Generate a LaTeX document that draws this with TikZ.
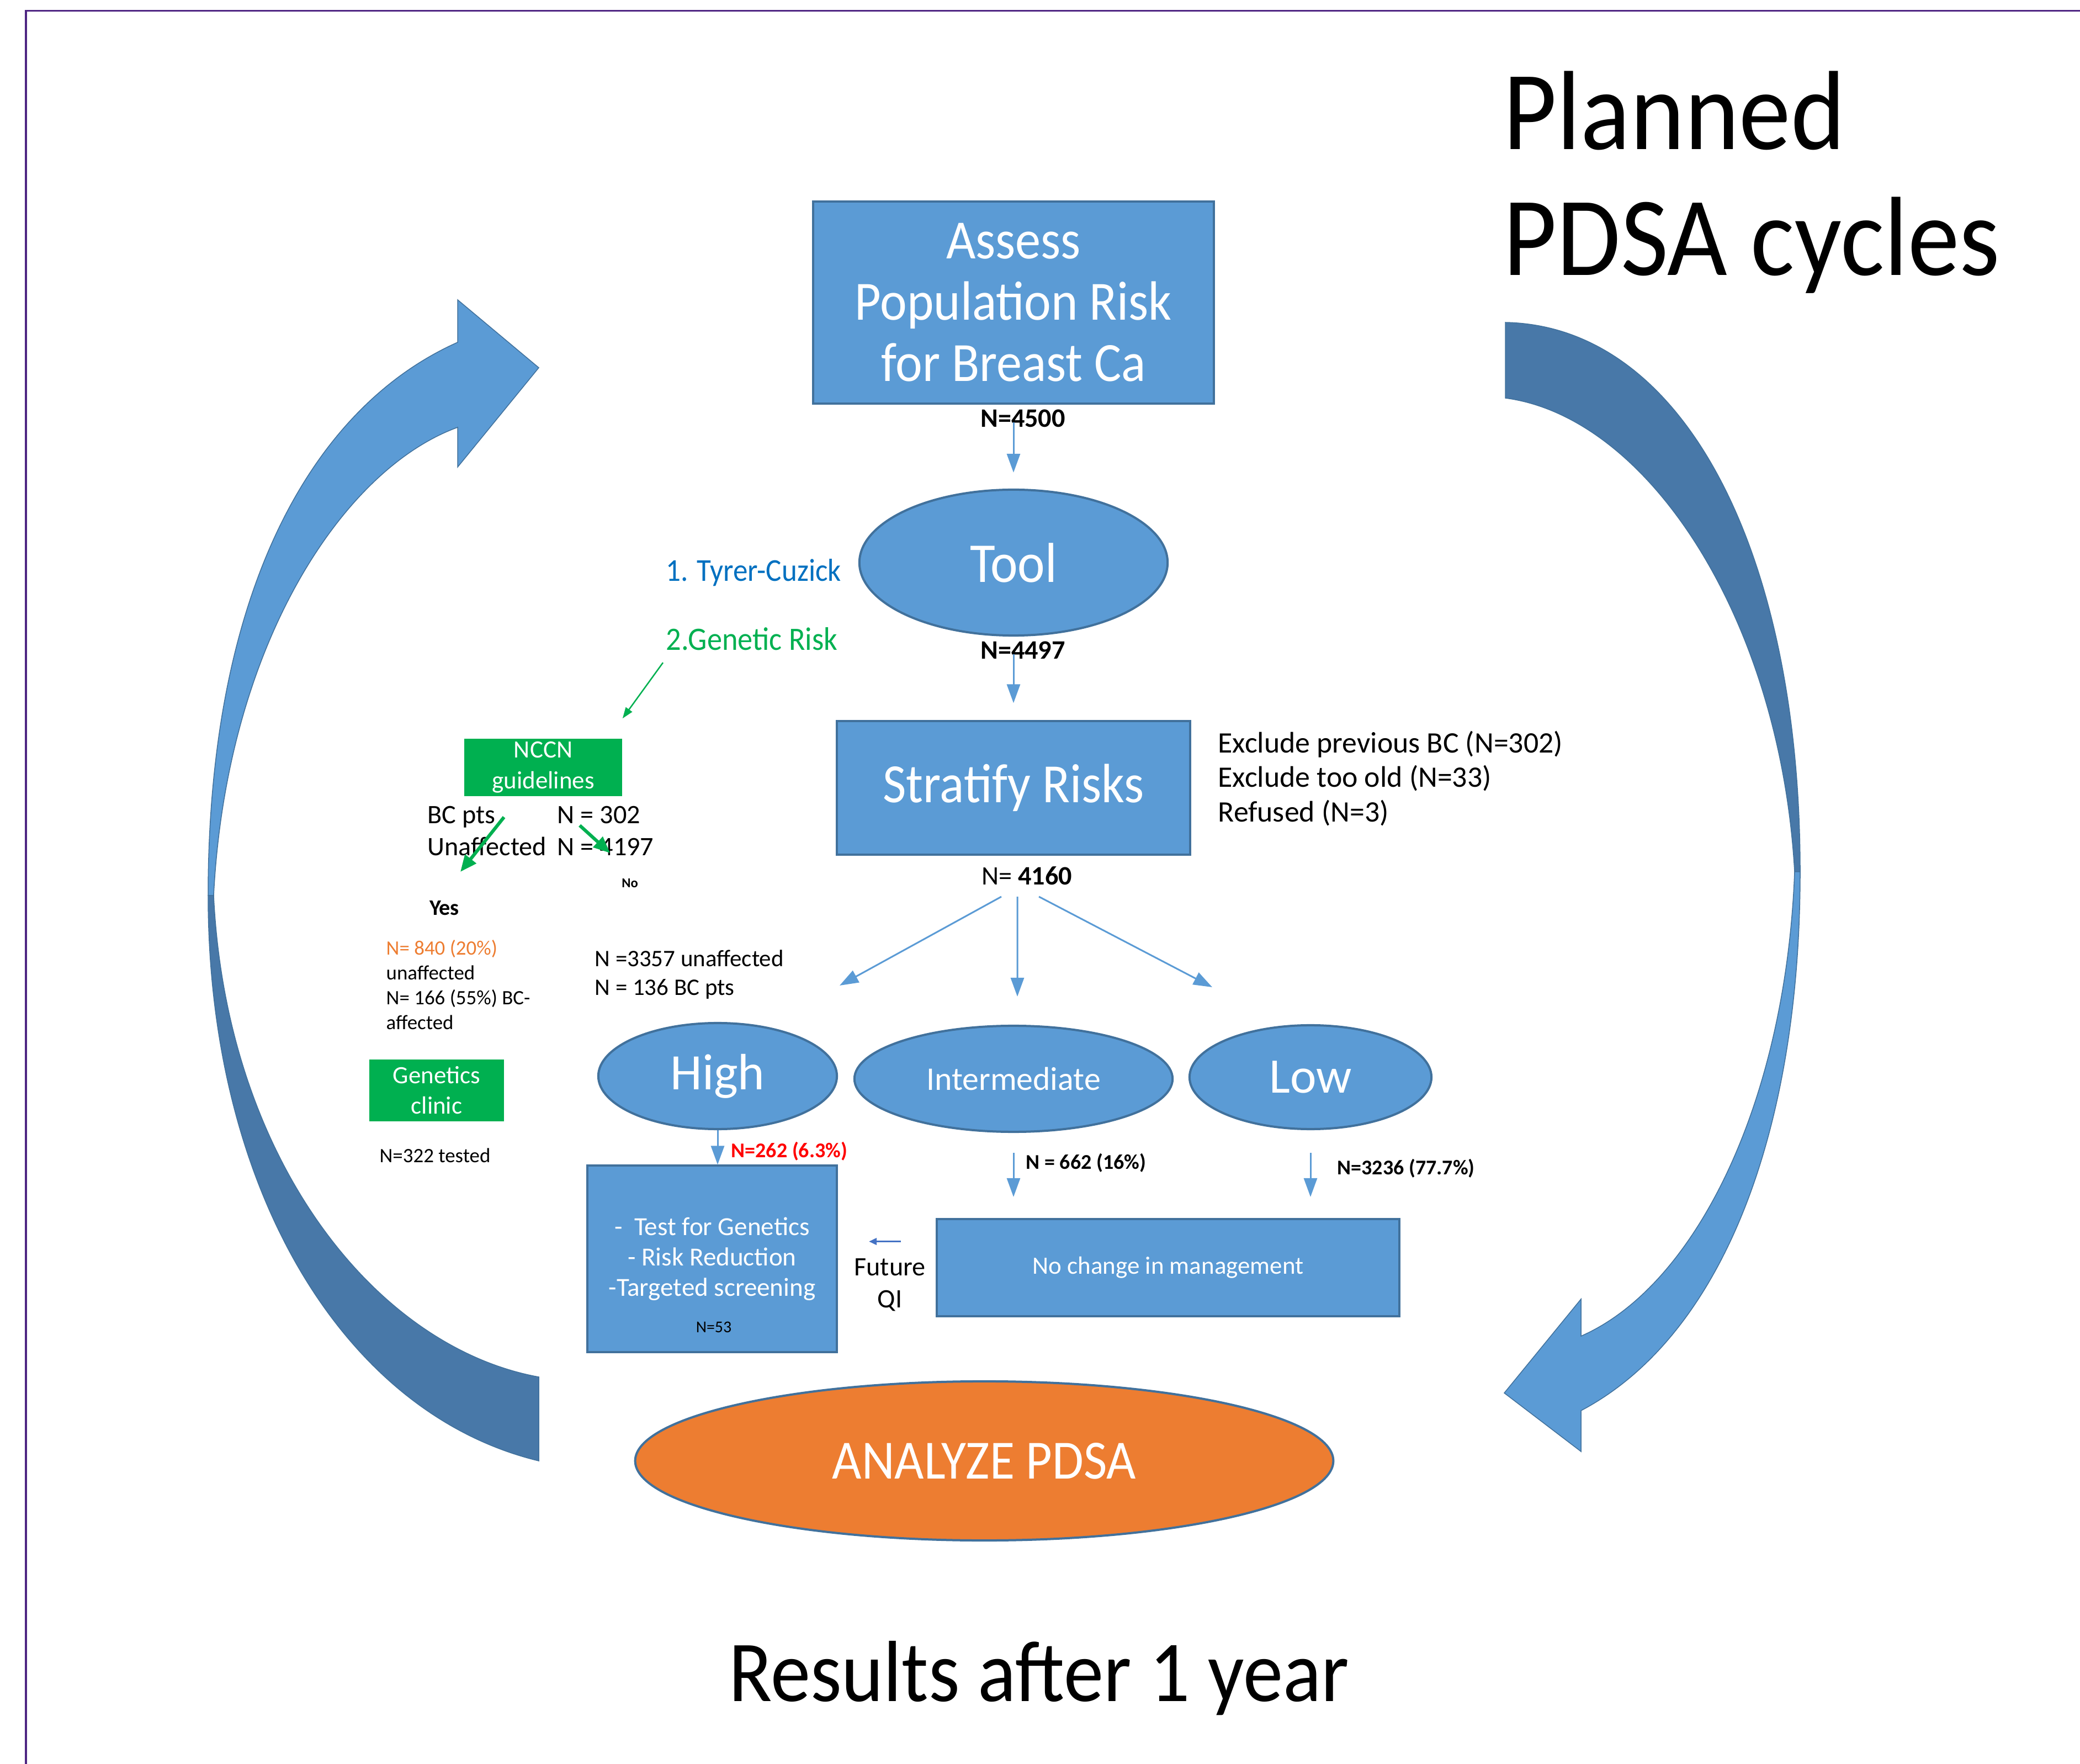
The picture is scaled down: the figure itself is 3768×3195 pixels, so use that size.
\documentclass[tikz,border=0pt]{standalone}
\usepackage{fontspec}
\setmainfont{Carlito}
\newfontfamily\narrowfont{Carlito}[FakeStretch=0.92]
\usepackage{tikz}
\usetikzlibrary{shapes, arrows.meta, positioning}
\definecolor{boxblue}{HTML}{5B9BD5}
\definecolor{boxedge}{HTML}{41719C}
\definecolor{darkband}{HTML}{4878A8}
\definecolor{nccngreen}{HTML}{00B050}
\definecolor{tcblue}{HTML}{0070C0}
\definecolor{pdsaorange}{HTML}{ED7D31}
\definecolor{qiblue}{HTML}{4472C4}
\definecolor{framepurple}{HTML}{4F2683}
\newcommand{\fsz}[2]{\fontsize{#1pt}{#2pt}\selectfont}

\tikzset{
    lbl/.style={inner sep=0pt},
    bluebox/.style={draw=boxedge, line width=0.04cm, fill=boxblue, text=white, inner sep=0pt, align=center},
    blueoval/.style={ellipse, draw=boxedge, line width=0.04cm, fill=boxblue, text=white, inner sep=0pt},
    greenbox/.style={fill=nccngreen, text=white, inner sep=0pt, align=center},
    flow/.style={-{Triangle[length=0.34cm, width=0.24cm]}, boxblue, line width=0.03cm},
    gline/.style={-{Triangle[length=0.3cm, width=0.25cm]}, nccngreen, line width=0.06cm},
}

\begin{document}
\begin{tikzpicture}[x=0.01cm, y=-0.01cm]
    \useasboundingbox (0,0) rectangle (3768,3195);
    % 边框
    \draw[framepurple, line width=0.03cm] (47,3195) -- (47,20) -- (3768,20);

    % 标题
    \node[lbl, anchor=west, align=left, font=\narrowfont\fsz{58}{65}] (title) at (2723,330) {Planned\\PDSA cycles};

    % 左侧弧形箭头
    \path[fill=boxblue, draw=boxedge, line width=0.015cm] (377,1622) .. controls (377,1080) and (560,740) .. (829,620) -- (829,543) -- (976,666) -- (829,846) -- (829,774) .. controls (620,850) and (410,1170) .. (387,1622) -- cycle;
    \path[fill=darkband, draw=boxedge, line width=0.015cm] (377,1622) .. controls (377,2150) and (620,2560) .. (976,2646) -- (976,2494) .. controls (680,2440) and (410,2100) .. (387,1622) -- cycle;

    % 右侧弧形箭头
    \path[fill=darkband, draw=boxedge, line width=0.015cm] (2727,584) .. controls (3050,590) and (3261,1000) .. (3261,1579) -- (3251,1579) .. controls (3225,1120) and (2985,755) .. (2727,721) -- cycle;
    \path[fill=boxblue, draw=boxedge, line width=0.015cm] (3261,1579) .. controls (3261,2050) and (3120,2420) .. (2864,2555) -- (2864,2629) -- (2725,2523) -- (2864,2353) -- (2864,2420) .. controls (3070,2330) and (3235,2000) .. (3251,1579) -- cycle;

    % 评估与工具
    \node[bluebox, minimum width=7.26cm, minimum height=3.66cm, font=\narrowfont\fsz{28.5}{31.5}] (assess) at (1836,548) {Assess\\Population Risk\\for Breast Ca};
    \node[lbl, anchor=base, font=\bfseries\fsz{13.7}{16}] (n4500) at (1853,774) {N=4500};
    \node[blueoval, minimum width=5.58cm, minimum height=2.64cm, font=\narrowfont\fsz{29}{36}] (tool) at (1836,1019) {Tool};
    \draw[flow, shorten <=-0.1cm, shorten >=0.29cm] (tool.north |- n4500.south) -- (tool.north);

    \node[lbl, anchor=base west, text=tcblue, font=\narrowfont\fsz{16.4}{20}] (tyrer) at (1206,1053) {1. Tyrer-Cuzick};
    \node[lbl, anchor=base west, text=nccngreen, font=\narrowfont\fsz{16.8}{20}] (genrisk) at (1206,1178) {2.Genetic Risk};

    % 分层
    \node[lbl, anchor=base, font=\bfseries\fsz{13.7}{16}] (n4497) at (1853,1194) {N=4497};
    \node[bluebox, minimum width=6.40cm, minimum height=2.41cm, font=\narrowfont\fsz{28.5}{34}] (stratify) at (1836,1427) {Stratify Risks};
    \draw[flow, shorten <=-0.1cm, shorten >=0.31cm] (stratify.north |- n4497.south) -- (stratify.north);
    \node[lbl, anchor=west, align=left, font=\fsz{15.3}{17.7}] (exclude) at (2206,1410) {Exclude previous BC (N=302)\\Exclude too old (N=33)\\Refused (N=3)};
    \node[lbl, anchor=base, font=\fsz{13.7}{16}] (n4160) at (1860,1603) {N= \textbf{4160}};

    % 三个分支
    \coordinate (hiTip) at (1521,1785);
    \coordinate (midTip) at (1843,1805);
    \coordinate (loTip) at (2196,1788);
    \draw[flow] ([shift={(-0.46cm,-0.2cm)}]n4160.south) -- (hiTip);
    \draw[flow] ([shift={(-0.17cm,-0.2cm)}]n4160.south) -- (midTip);
    \draw[flow] ([shift={(0.22cm,-0.2cm)}]n4160.south) -- (loTip);
    \node[lbl, anchor=west, align=left, font=\fsz{12.2}{15}] (split) at (1077,1765) {N =3357 unaffected\\N = 136 BC pts};

    \node[blueoval, minimum width=4.32cm, minimum height=1.92cm, font=\fsz{26.3}{33}] (high) at (1300,1949) {High};
    \node[blueoval, minimum width=5.76cm, minimum height=1.92cm, font=\fsz{17}{19}] (inter) at (1836,1954) {Intermediate};
    \node[blueoval, minimum width=4.38cm, minimum height=1.88cm, font=\fsz{25.6}{31}] (low) at (2374,1951) {Low};

    % 处理结果
    \node[bluebox, minimum width=4.51cm, minimum height=3.37cm, font=\fsz{13.4}{15.6}] (test) at (1290,2280) {-~~Test for Genetics\\- Risk Reduction\\-Targeted screening};
    \node[lbl, anchor=base, font=\fsz{8.5}{10}] (n53) at (1293,2413) {N=53};
    \draw[flow] (high.south) -- (high.south |- test.north);
    \node[lbl, anchor=base west, text=red, font=\bfseries\fsz{10.8}{13}] (n262) at (1324,2096) {N=262 (6.3\%)};

    \node[bluebox, minimum width=8.38cm, minimum height=1.76cm, font=\fsz{12.8}{15}] (nochange) at (2116,2296) {No change in management};
    \draw[flow, shorten <=0.36cm, shorten >=0.38cm] (inter.south) -- (inter.south |- nochange.north);
    \draw[flow, shorten <=0.41cm, shorten >=0.38cm] (low.south) -- (low.south |- nochange.north);
    \node[lbl, anchor=base west, font=\bfseries\fsz{10.8}{13}] (n662) at (1858,2117) {N = 662 (16\%)};
    \node[lbl, anchor=base west, font=\bfseries\fsz{10.8}{13}] (n3236) at (2422,2127) {N=3236 (77.7\%)};

    \node[lbl, align=center, font=\fsz{13.7}{16.5}] (futureqi) at (1612,2327) {Future\\QI};
    \draw[-{Triangle[length=0.14cm, width=0.12cm]}, qiblue, line width=0.035cm] ([shift={(0.2cm,0.3cm)}]futureqi.north) -- ++(-0.58cm,0);

    % NCCN 指南
    \node[greenbox, minimum width=2.86cm, minimum height=1.04cm, font=\fsz{12.8}{16}] (nccn) at (984,1390) {NCCN\\guidelines};
    \draw[-{Triangle[length=0.2cm, width=0.14cm]}, nccngreen, line width=0.025cm] ([shift={(-0.05cm,-0.21cm)}]genrisk.south west) -- ([yshift=0.36cm]nccn.north east);
    \node[lbl, anchor=west, align=left, font=\fsz{13.7}{16.5}] (ncnums) at (774,1505) {\makebox[2.35cm][l]{BC pts}N = 302\\\makebox[2.35cm][l]{Unaffected}N = 4197};
    \draw[gline] ([shift={(1.39cm,0.25cm)}]ncnums.west) -- ++(-0.79cm,-0.99cm);
    \draw[gline] ([shift={(2.76cm,0.1cm)}]ncnums.west) -- ++(0.55cm,-0.5cm);
    \node[lbl, anchor=base, font=\bfseries\fsz{7}{8}] (no) at (1141,1608) {No};
    \node[lbl, anchor=base, font=\bfseries\fsz{11.4}{13}] (yes) at (805,1658) {Yes};
    \node[lbl, anchor=west, align=left, font=\fsz{10.5}{12.8}] (yesnums) at (699,1784) {\textcolor{pdsaorange}{N= 840 (20\%)}\\unaffected\\N= 166 (55\%) BC-\\affected};
    \node[greenbox, minimum width=2.43cm, minimum height=1.11cm, font=\fsz{12.8}{15.6}] (clinic) at (791,1975) {Genetics\\clinic};
    \node[lbl, anchor=base, font=\fsz{10.5}{12}] (n322) at (788,2105) {N=322 tested};

    % 分析
    \node[ellipse, draw=boxedge, line width=0.04cm, fill=pdsaorange, text=white, inner sep=0pt, minimum width=12.64cm, minimum height=2.88cm, font=\narrowfont\fsz{28.5}{34}] (analyze) at (1783,2646) {ANALYZE PDSA};
    \node[lbl, anchor=base, font=\narrowfont\fsz{44.7}{50}] (results) at (1882,3081) {Results after 1 year};
\end{tikzpicture}
\end{document}
